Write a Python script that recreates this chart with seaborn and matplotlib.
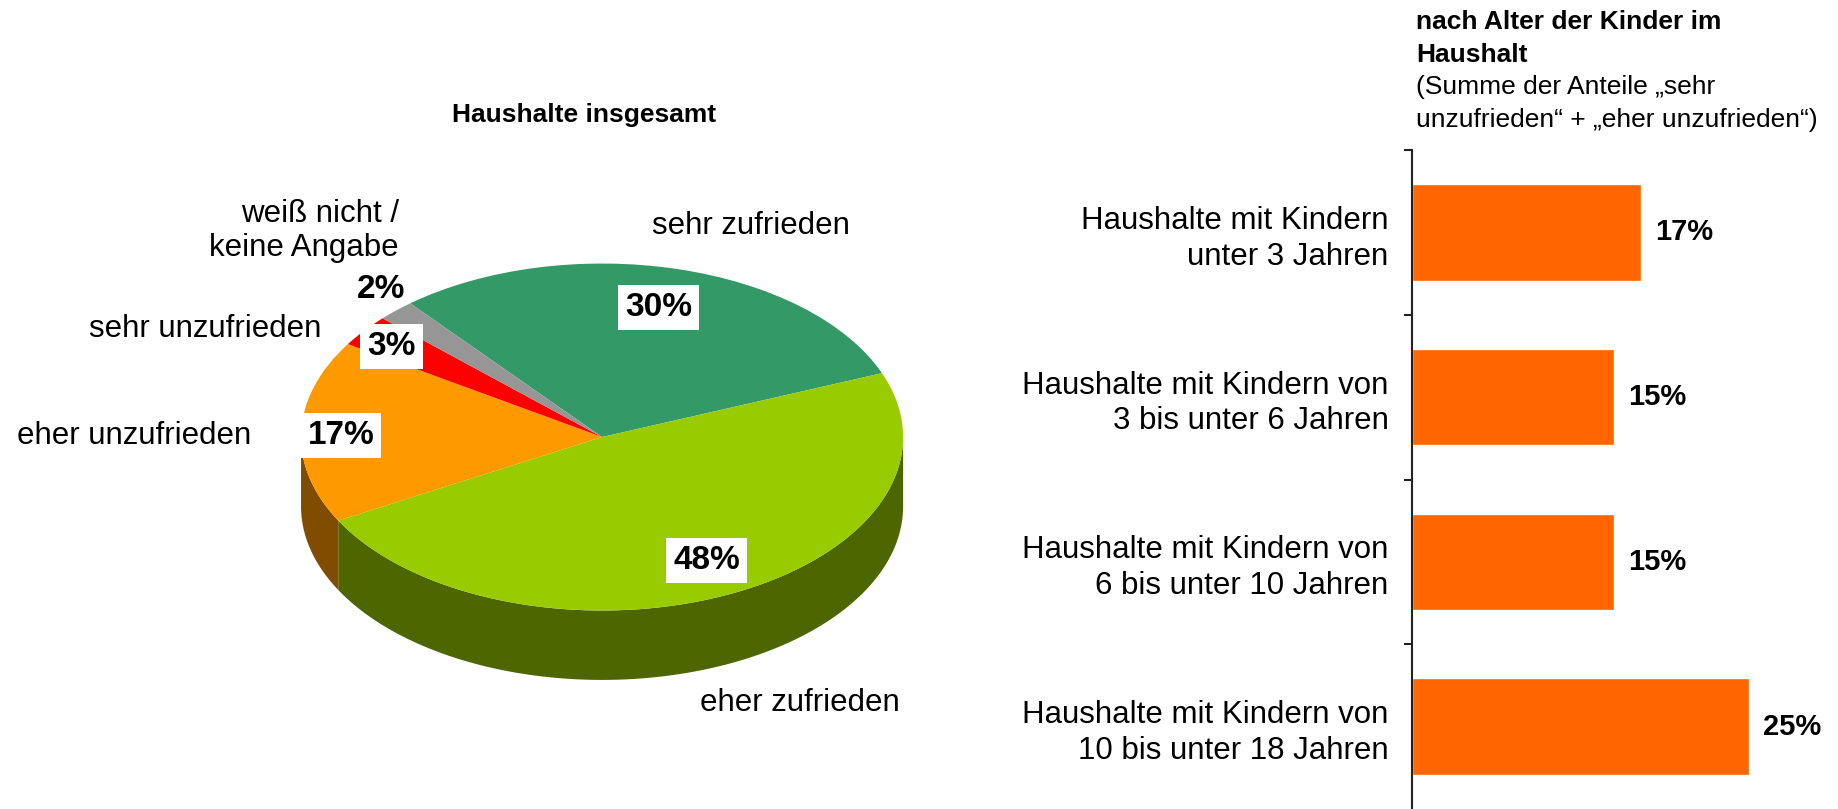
import numpy as np
import matplotlib
matplotlib.use("Agg")
import matplotlib.pyplot as plt
import matplotlib.colors as mcolors
import seaborn as sns

# ---- data ----
pie_labels = ["sehr zufrieden", "eher zufrieden", "eher unzufrieden",
              "sehr unzufrieden", "weiß nicht /\nkeine Angabe"]
pie_shares = [30, 48, 17, 3, 2]
pie_colors = ["#339966", "#99CC00", "#FF9900", "#FF0000", "#969696"]

bar_categories = [
    "Haushalte mit Kindern\nunter 3 Jahren",
    "Haushalte mit Kindern von\n3 bis unter 6 Jahren",
    "Haushalte mit Kindern von\n6 bis unter 10 Jahren",
    "Haushalte mit Kindern von\n10 bis unter 18 Jahren",
]
bar_values = [17, 15, 15, 25]
bar_color = "#FF6600"

pie_title = "Haushalte insgesamt"
bar_title = [
    ("nach Alter der Kinder im", "bold"),
    ("Haushalt", "bold"),
    ("(Summe der Anteile \u201esehr", "normal"),
    ("unzufrieden\u201c + \u201eeher unzufrieden\u201c)", "normal"),
]

# ---- layout (data coords of the pie axes, unit = pie radius) ----
pct_pos = [(0.189, 0.749), (0.348, -0.711), (-0.867, 0.006), (-0.699, 0.519), (-0.734, 0.850)]
pct_box = [True, True, True, True, False]
name_pos = [(0.496, 1.215, "center"), (0.656, -1.535, "center"), (-1.556, 0.006, "center"),
            (-1.319, 0.620, "center"), (-0.676, 1.187, "right")]
depth = 0.40

sns.set_theme(style="white")
plt.rcParams["font.family"] = ["Liberation Sans", "DejaVu Sans"]
plt.rcParams["text.color"] = "black"
plt.rcParams["ytick.color"] = "black"
plt.rcParams["xtick.color"] = "black"

fig = plt.figure(figsize=(18.38, 8.09), dpi=100)

# ---- 3D-looking pie ----
ax_pie = fig.add_axes([0, 0, 1100 / 1838, 1])
wedges, _ = ax_pie.pie(pie_shares, colors=pie_colors, startangle=129.6,
                       counterclock=False, wedgeprops=dict(linewidth=0, zorder=2))

# side wall for the front half of the pie
for w, c in zip(wedges, pie_colors):
    side = tuple(np.array(mcolors.to_rgb(c)) * 0.5)
    t1, t2 = sorted((w.theta1, w.theta2))
    for k in range(-2, 3):
        a, b = max(t1, 180 + 360 * k), min(t2, 360 + 360 * k)
        if b - a <= 0:
            continue
        th = np.radians(np.linspace(a, b, 100))
        xs = np.concatenate([np.cos(th), np.cos(th[::-1])])
        ys = np.concatenate([np.sin(th), np.sin(th[::-1]) - depth])
        ax_pie.fill(xs, ys, color=side, linewidth=0, zorder=1)

ax_pie.set_aspect("auto")
ax_pie.set_xlim(-2.0, 1.654)
ax_pie.set_ylim(-2.144, 2.519)
ax_pie.axis("off")

for v, (x, y), box in zip(pie_shares, pct_pos, pct_box):
    ax_pie.text(x, y, f"{v}%", ha="center", va="center", fontsize=24,
                fontweight="bold", zorder=5,
                bbox=dict(facecolor="white", edgecolor="none", pad=5) if box else None)

for lab, (x, y, ha) in zip(pie_labels, name_pos):
    ax_pie.text(x, y, lab, ha=ha, va="center", fontsize=22.5, linespacing=1.2)

ax_pie.text(-0.06, 1.856, pie_title, ha="center", va="center", fontsize=19, fontweight="bold")

# ---- bar chart ----
ax_bar = fig.add_axes([1412 / 1838, 0, 426 / 1838, 659 / 809])
sns.barplot(x=bar_values, y=bar_categories, orient="h", color=bar_color,
            saturation=1, width=0.585, ax=ax_bar)
ax_bar.set_xlim(0, 31.6)
ax_bar.set_ylim(3.5, -0.5)
ax_bar.set_xticks([])
ax_bar.set_xlabel("")
ax_bar.set_ylabel("")
for s in ["top", "right", "bottom"]:
    ax_bar.spines[s].set_visible(False)
ax_bar.spines["left"].set_color("#222222")
ax_bar.spines["left"].set_linewidth(1.5)
ax_bar.set_yticks(np.arange(len(bar_categories)) - 0.5, minor=True)
ax_bar.tick_params(axis="y", which="minor", length=6, width=1.5, color="#222222", direction="out", left=True)
ax_bar.tick_params(axis="y", which="major", length=0, pad=17, labelsize=22.5, labelcolor="black")
for t in ax_bar.get_yticklabels():
    t.set_linespacing(1.25)
ax_bar.bar_label(ax_bar.containers[0], fmt="{:.0f}%", padding=10,
                 fontsize=21, fontweight="bold", color="black")

y0 = 29
for line, weight in bar_title:
    fig.text(1416 / 1838, 1 - y0 / 809, line, ha="left", va="baseline",
             fontsize=19, fontweight=weight)
    y0 += 32.5

fig.savefig("out.png", dpi=100)
